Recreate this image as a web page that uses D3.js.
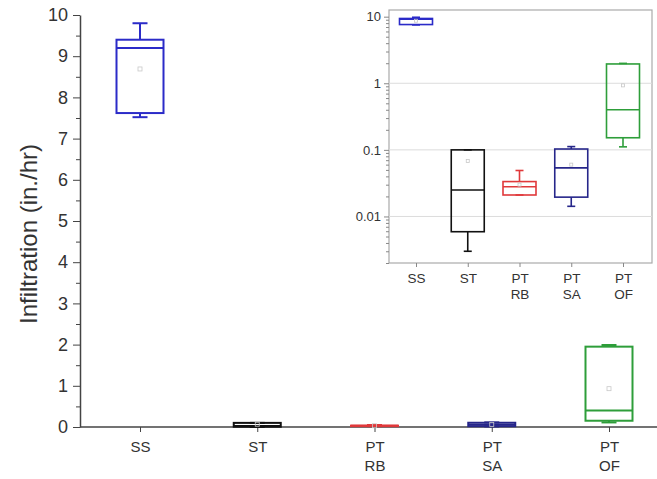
<!DOCTYPE html>
<html>
<head>
<meta charset="utf-8">
<script src="https://cdn.jsdelivr.net/npm/d3@7"></script>
<style>
  body { margin: 0; background: #fff; }
  text { font-family: Arial, "Liberation Sans", sans-serif; fill: #333; }
</style>
</head>
<body>
<div id="container"></div>
<script>
/* DATA */
const categories = ["SS", "ST", "PT RB", "PT SA", "PT OF"];
const whiskerLow = [7.52, 0.003, 0.021, 0.0142, 0.111];
const q1 = [7.62, 0.0059, 0.021, 0.0195, 0.152];
const median = [9.2, 0.025, 0.028, 0.0536, 0.40];
const q3 = [9.4, 0.1, 0.0334, 0.103, 1.95];
const whiskerHigh = [9.8, 0.1, 0.049, 0.112, 1.99];
const means = [8.69, 0.068, 0.03, 0.06, 0.93];
const colors = ["#2b2bc8", "#111111", "#e0393b", "#26268a", "#2e9e3a"];
const mainTicks = [0, 1, 2, 3, 4, 5, 6, 7, 8, 9, 10];
const insetTicks = [0.01, 0.1, 1, 10];

const data = categories.map((c, i) => ({
  cat: c, lo: whiskerLow[i], q1: q1[i], med: median[i], q3: q3[i],
  hi: whiskerHigh[i], mean: means[i], color: colors[i]
}));

/* CONSTANTS */
const width = 657, height = 479;

const svg = d3.select("#container").append("svg")
  .attr("width", width).attr("height", height);

/* MAIN SCALES */
const x = d3.scalePoint().domain(categories).range([140, 609]);
const y = d3.scaleLinear().domain([0, 10]).range([427, 15]);

function labelLines(sel, fs, gap) {
  sel.selectAll(".tick text").each(function(d) {
    const t = d3.select(this);
    const parts = d.split(" ");
    t.text(null);
    parts.forEach((p, i) => {
      t.append("tspan").attr("x", 0).attr("dy", i === 0 ? "0.71em" : gap).text(p);
    });
  }).attr("font-size", fs);
}

// y axis minor + major
svg.append("g")
  .attr("transform", "translate(80,0)")
  .call(d3.axisLeft(y).tickValues(d3.range(0.5, 10, 1)).tickSize(4).tickFormat(""))
  .call(g => g.select(".domain").remove())
  .call(g => g.selectAll("line").attr("stroke", "#444"));

svg.append("g")
  .attr("transform", "translate(80,0)")
  .call(d3.axisLeft(y).tickValues(mainTicks).tickSize(7).tickSizeOuter(0).tickPadding(5))
  .call(g => g.select(".domain").attr("stroke", "#444").attr("stroke-width", 1.5))
  .call(g => g.selectAll("line").attr("stroke", "#444"))
  .call(g => g.selectAll("text").attr("font-size", 18).attr("fill", "#333"));

// x axis
svg.append("line")
  .attr("x1", 80).attr("x2", width).attr("y1", y(0)).attr("y2", y(0))
  .attr("stroke", "#444").attr("stroke-width", 1.5);

svg.append("g")
  .attr("transform", `translate(0,${y(0)})`)
  .call(d3.axisBottom(x).tickSize(5).tickSizeOuter(0).tickPadding(9))
  .call(g => g.select(".domain").remove())
  .call(g => g.selectAll("line").attr("stroke", "#444"))
  .call(g => labelLines(g, 15, "1.3em"));

svg.append("text")
  .attr("transform", `translate(37,234) rotate(-90)`)
  .attr("text-anchor", "middle")
  .attr("font-size", 24)
  .attr("fill", "#444")
  .text("Infiltration (in./hr)");

/* BOX DRAWING */
function drawBoxes(g, xs, ys, bw, cap, sw, meanSize) {
  const b = g.selectAll("g.box").data(data).join("g").attr("class", "box");
  b.append("line")
    .attr("x1", d => xs(d.cat)).attr("x2", d => xs(d.cat))
    .attr("y1", d => ys(d.hi)).attr("y2", d => ys(d.q3))
    .attr("stroke", d => d.color).attr("stroke-width", sw);
  b.append("line")
    .attr("x1", d => xs(d.cat)).attr("x2", d => xs(d.cat))
    .attr("y1", d => ys(d.q1)).attr("y2", d => ys(d.lo))
    .attr("stroke", d => d.color).attr("stroke-width", sw);
  ["hi", "lo"].forEach(k => {
    b.append("line")
      .attr("x1", d => xs(d.cat) - cap / 2).attr("x2", d => xs(d.cat) + cap / 2)
      .attr("y1", d => ys(d[k])).attr("y2", d => ys(d[k]))
      .attr("stroke", d => d.color).attr("stroke-width", sw);
  });
  b.append("rect")
    .attr("x", d => xs(d.cat) - bw / 2).attr("width", bw)
    .attr("y", d => ys(d.q3)).attr("height", d => ys(d.q1) - ys(d.q3))
    .attr("fill", "none").attr("stroke", d => d.color).attr("stroke-width", sw);
  b.append("line")
    .attr("x1", d => xs(d.cat) - bw / 2).attr("x2", d => xs(d.cat) + bw / 2)
    .attr("y1", d => ys(d.med)).attr("y2", d => ys(d.med))
    .attr("stroke", d => d.color).attr("stroke-width", sw);
  b.append("rect")
    .attr("x", d => xs(d.cat) - meanSize / 2).attr("width", meanSize)
    .attr("y", d => ys(d.mean) - meanSize / 2).attr("height", meanSize)
    .attr("fill", "none").attr("stroke", "#c8c8c8").attr("stroke-width", 0.8);
}

drawBoxes(svg.append("g"), x, y, 47, 15, 2, 4);

/* INSET */
const ix = d3.scalePoint().domain(categories).range([416, 623]);
const iy = d3.scaleLog().domain([0.002, 12.6]).range([263, 10]);
const inset = svg.append("g");

inset.append("rect")
  .attr("x", 389).attr("y", 10).attr("width", 652 - 389).attr("height", 263 - 10)
  .attr("fill", "#fff").attr("stroke", "#aaa").attr("stroke-width", 1.2);

inset.selectAll("line.grid").data([0.01, 0.1, 1]).join("line")
  .attr("class", "grid")
  .attr("x1", 389).attr("x2", 652)
  .attr("y1", d => iy(d)).attr("y2", d => iy(d))
  .attr("stroke", "#dcdcdc").attr("stroke-width", 1);

// log minor ticks
const minorVals = [];
[0.001, 0.01, 0.1, 1, 10].forEach(dec => {
  for (let k = 2; k <= 9; k++) {
    const v = dec * k;
    if (v >= 0.002 && v <= 12.6) minorVals.push(v);
  }
});
inset.append("g")
  .attr("transform", "translate(389,0)")
  .call(d3.axisLeft(iy).tickValues(minorVals).tickSize(3).tickFormat(""))
  .call(g => g.select(".domain").remove())
  .call(g => g.selectAll("line").attr("stroke", "#888"));

inset.append("g")
  .attr("transform", "translate(389,0)")
  .call(d3.axisLeft(iy).tickValues(insetTicks).tickSize(5).tickPadding(3)
    .tickFormat(d => String(d)))
  .call(g => g.select(".domain").remove())
  .call(g => g.selectAll("line").attr("stroke", "#888"))
  .call(g => g.selectAll("text").attr("font-size", 13).attr("fill", "#333"));

inset.append("g")
  .attr("transform", "translate(0,263)")
  .call(d3.axisBottom(ix).tickSize(4).tickSizeOuter(0).tickPadding(6))
  .call(g => g.select(".domain").remove())
  .call(g => g.selectAll("line").attr("stroke", "#888"))
  .call(g => labelLines(g, 13.5, "1.25em"));

drawBoxes(inset.append("g"), ix, iy, 33, 8, 1.6, 3);
</script>
</body>
</html>
